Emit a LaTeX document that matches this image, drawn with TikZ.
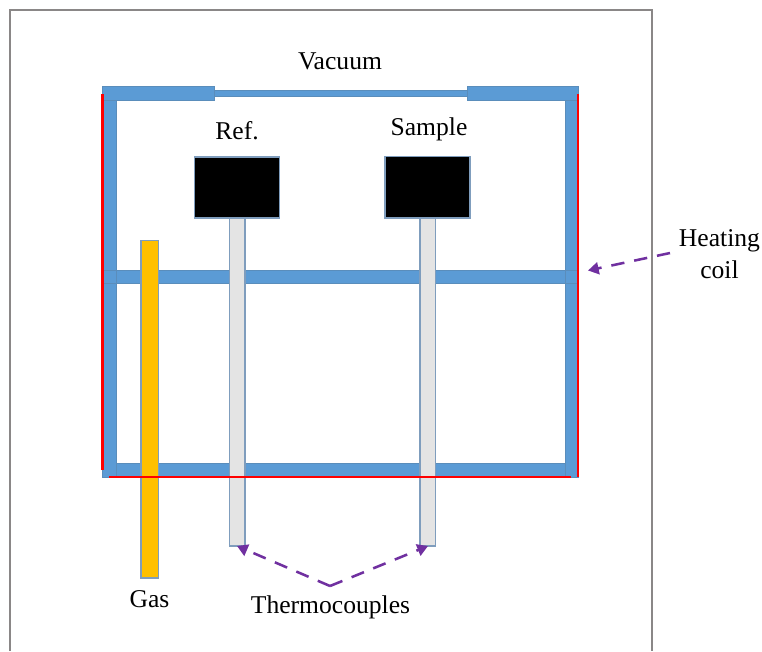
\documentclass[tikz,border=0pt]{standalone}
\usepackage{fontspec}
\setmainfont{Liberation Serif}
\usetikzlibrary{arrows.meta}
\definecolor{barblue}{HTML}{5B9BD5}
\definecolor{barline}{HTML}{5A8DBB}
\definecolor{tubegray}{HTML}{E4E4E4}
\definecolor{tubeline}{HTML}{7F9DBD}
\definecolor{goldfill}{HTML}{FFC000}
\definecolor{arrowpurple}{HTML}{7030A0}
\definecolor{framegray}{HTML}{8A8787}
\tikzset{
  wallpart/.style={fill=barblue,draw=barline,line width=0.5pt},
  tubepart/.style={fill=tubegray,draw=tubeline,line width=0.8pt},
  gaspart/.style={fill=goldfill,draw=tubeline,line width=0.8pt},
  crucible/.style={fill=black,draw=tubeline,line width=0.8pt},
  heater/.style={draw=red,line width=2.1pt},
  pointer/.style={draw=arrowpurple,line width=1.9pt,dash pattern=on 10pt off 7.5pt,
    -{Triangle[length=8pt,width=9pt]}},
  label/.style={font=\fontsize{19.2pt}{23pt}\selectfont,text=black,inner sep=0pt,align=center}
}
\newcommand{\boxpart}[6]{%
  \pgfmathsetmacro{\bw}{(#4-#2)*0.75}%
  \pgfmathsetmacro{\bh}{(#5-#3)*0.75}%
  \pgfmathsetmacro{\bx}{(#2+#4)/2}%
  \pgfmathsetmacro{\by}{(#3+#5)/2}%
  \node[#6,rectangle,inner sep=0pt,outer sep=0pt,minimum width=\bw pt,minimum height=\bh pt] (#1) at (\bx,\by) {};%
}
\begin{document}
\begin{tikzpicture}[x=0.75pt,y=-0.75pt]
\useasboundingbox (0,0) rectangle (762,651);
\fill[white] (0,0) rectangle (762,651);
\draw[framegray,line width=2pt] (10,651) -- (10,10) -- (652,10) -- (652,651);
% vessel
\boxpart{leftwall}{102.5}{100}{116}{477}{wallpart}
\boxpart{rightwall}{565}{100}{578}{477}{wallpart}
\boxpart{midbar}{116}{270}{565}{283.5}{wallpart}
\boxpart{botbar}{116}{463}{565}{477}{wallpart}
\boxpart{window}{214}{90}{467}{96}{wallpart}
\boxpart{topleft}{102.5}{86}{214}{100}{wallpart}
\boxpart{topright}{467}{86}{578}{100}{wallpart}
\draw[barline,line width=0.5pt] (102.5,270) -- (116,270) (102.5,283.5) -- (116,283.5);
\draw[barline,line width=0.5pt] (565,270) -- (578,270) (565,283.5) -- (578,283.5);
% tubes
\boxpart{gastube}{141}{240.5}{158.5}{578}{gaspart}
\boxpart{reftube}{229.5}{218}{245}{546}{tubepart}
\boxpart{samtube}{420}{218}{435.5}{546}{tubepart}
\boxpart{refbox}{194.5}{157}{279.5}{218}{crucible}
\boxpart{sambox}{385}{156.5}{470}{218}{crucible}
% heating coil
\coordinate (hla) at (102.5,94);
\coordinate (hlb) at (102.5,470);
\coordinate (hra) at (578,94);
\coordinate (hrb) at (578,477);
\coordinate (hba) at (109,477);
\coordinate (hbb) at (571,477);
\draw[heater] (hla) -- (hlb);
\draw[heater] (hra) -- (hrb);
\draw[heater] (hba) -- (hbb);
% labels
\node[label] (vacuum) at (340,61) {Vacuum};
\node[label] (reflabel) at (237,131) {Ref.};
\node[label] (samlabel) at (429,129) {Sample};
\node[label] (gaslabel) at (149.5,599) {Gas};
\node[label] (thermo) at (330.5,607) {Thermocouples};
\node[label] (heatlabel) at (719.5,254) {Heating\\[1pt]coil};
% pointers
\coordinate (apex) at (330,586);
\coordinate (reftip) at (237,546);
\coordinate (samtip) at (428,546);
\coordinate (heatstart) at (670,253);
\coordinate (heattip) at (588,270.5);
\draw[pointer] (apex) -- (reftip);
\draw[pointer] (apex) -- (samtip);
\draw[pointer] (heatstart) -- (heattip);
\end{tikzpicture}
\end{document}
